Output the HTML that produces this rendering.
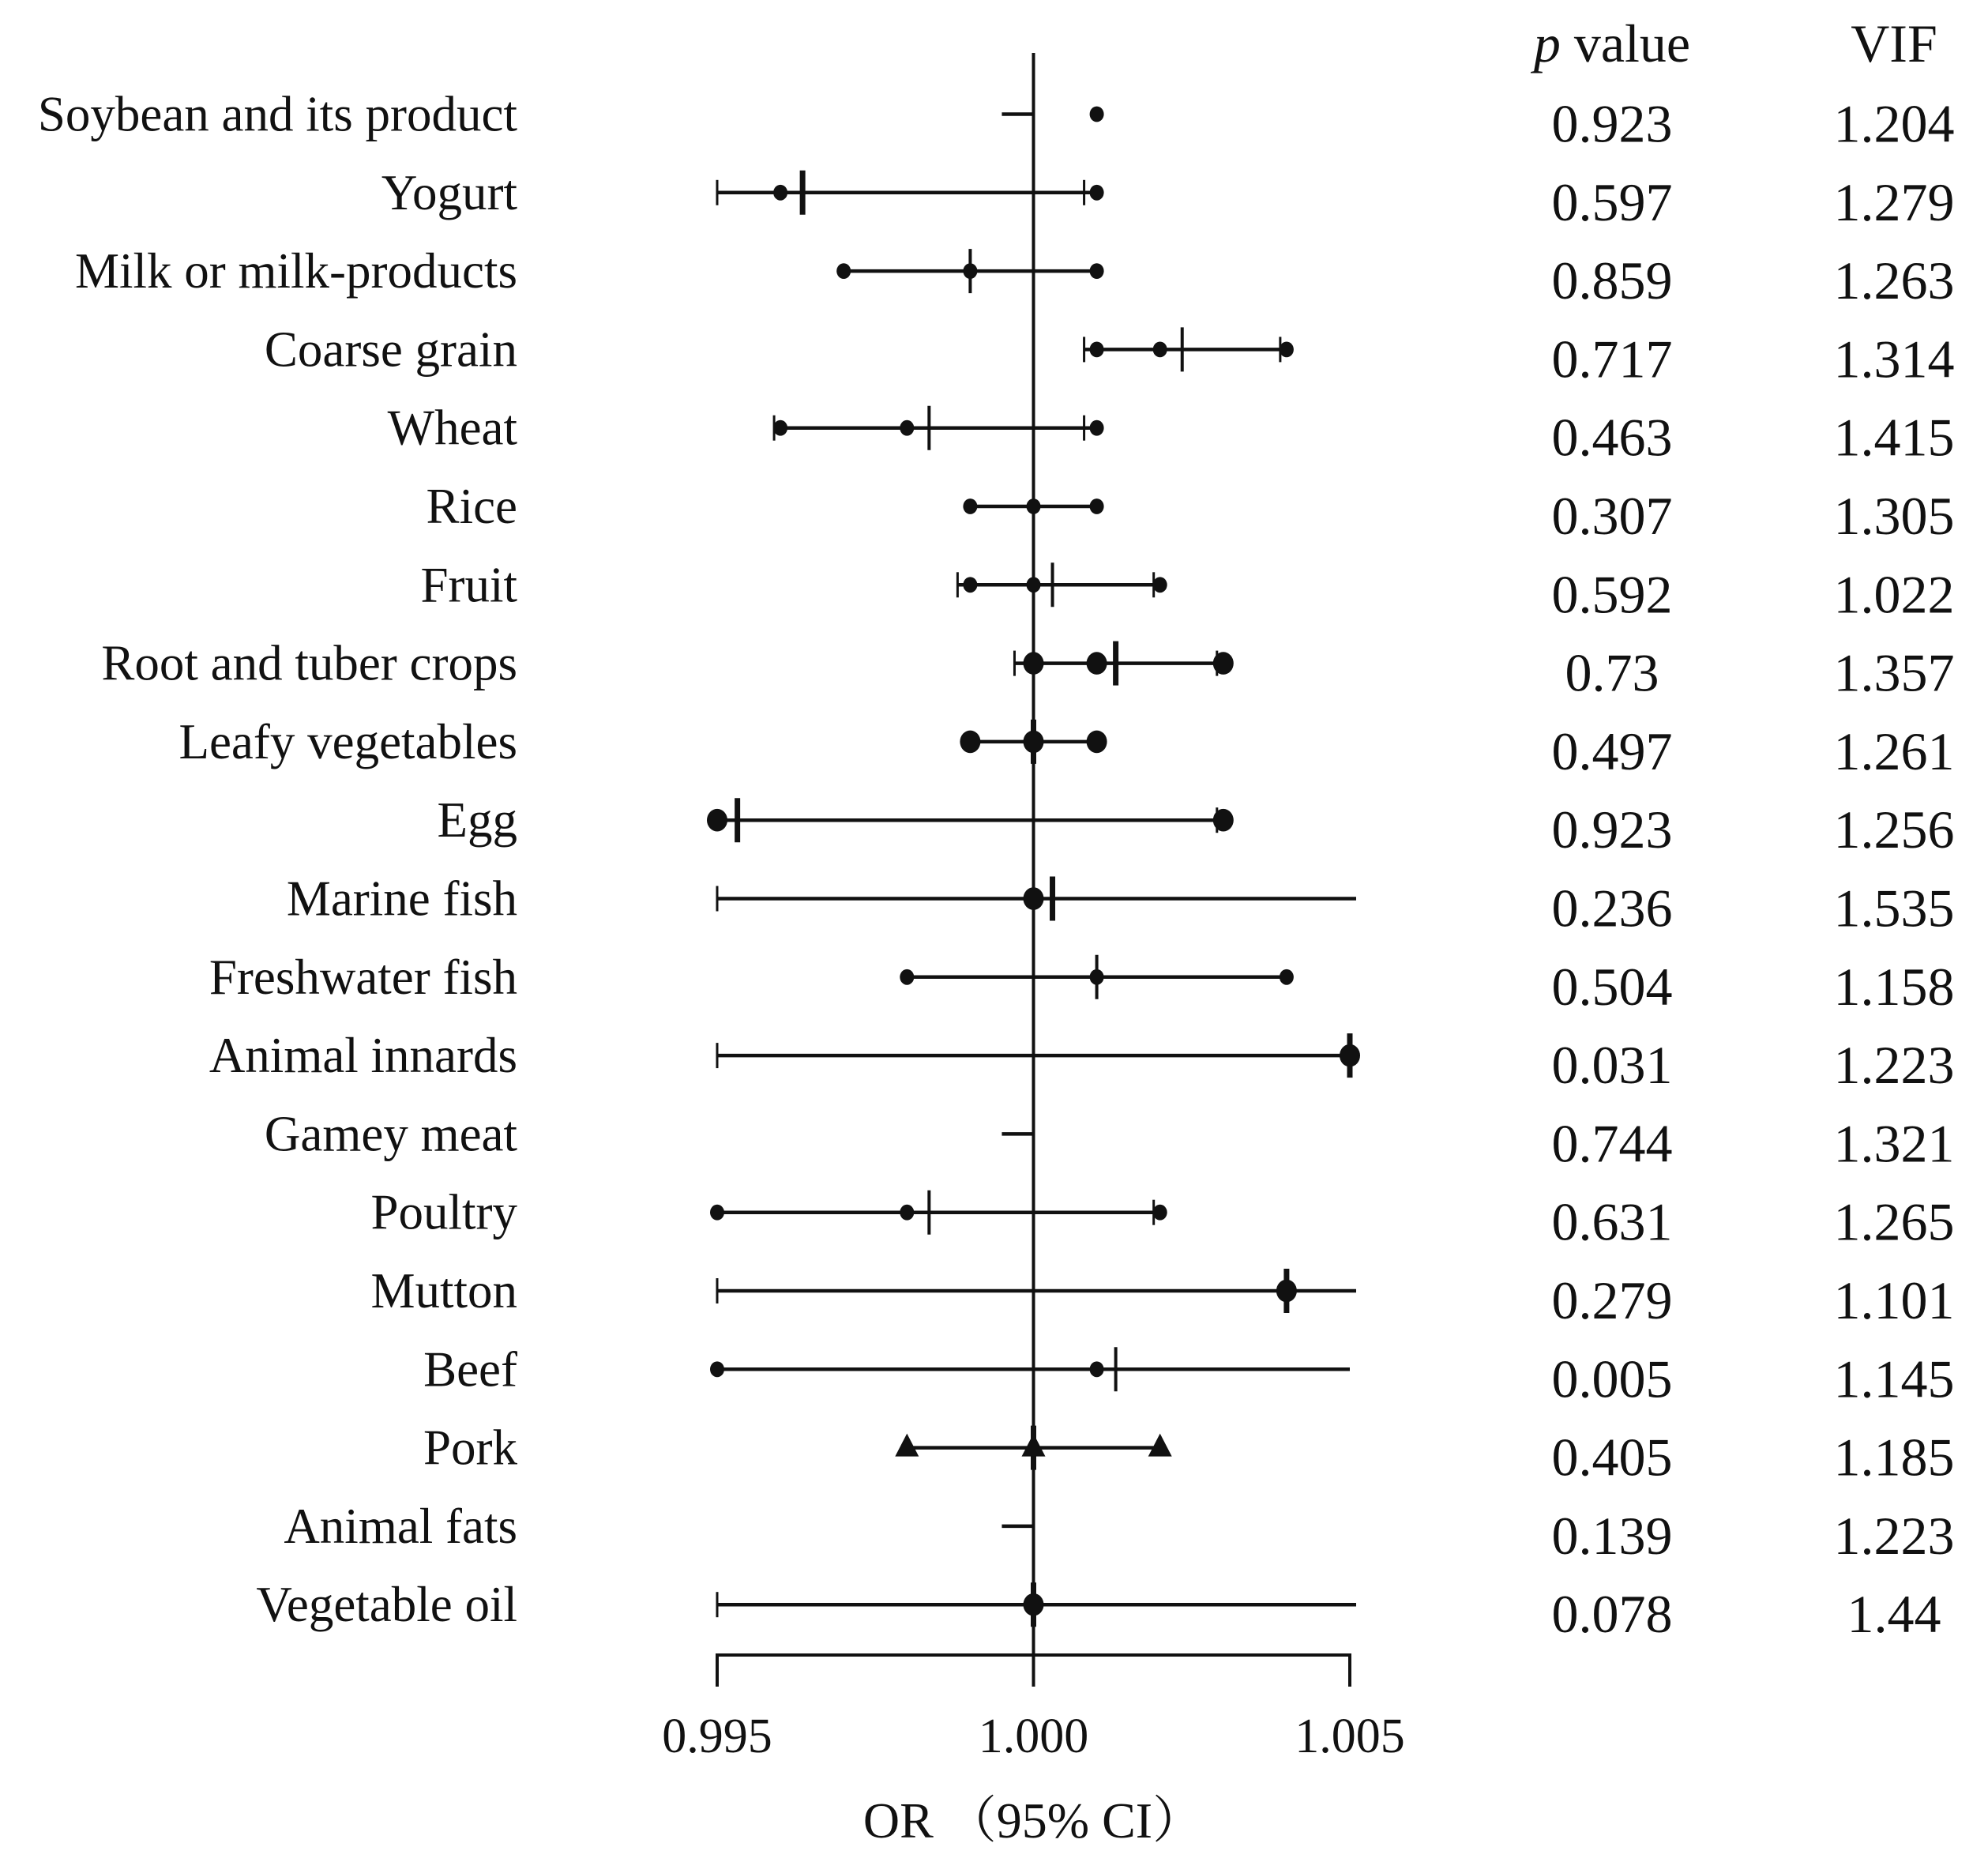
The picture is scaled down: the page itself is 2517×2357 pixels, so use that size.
<!DOCTYPE html>
<html><head><meta charset="utf-8"><style>
html,body{margin:0;padding:0;background:#fff;}
svg{display:block;}
text{font-family:"Liberation Serif","Noto Serif CJK SC",serif;fill:#111;}
</style></head><body>
<svg id="chart" width="2517" height="2357" viewBox="0 0 2517 2357" xmlns="http://www.w3.org/2000/svg">
<text x="2041" y="78" font-size="68" text-anchor="middle"><tspan font-style="italic">p</tspan>  value</text>
<text x="2398" y="78" font-size="68" text-anchor="middle">VIF</text>
<text x="1308" y="2326" font-size="64" text-anchor="middle">OR （95% CI）</text>
</svg>
<script>
const categories=["Soybean and its product","Yogurt","Milk or milk-products","Coarse grain","Wheat","Rice","Fruit","Root and tuber crops","Leafy vegetables","Egg","Marine fish","Freshwater fish","Animal innards","Gamey meat","Poultry","Mutton","Beef","Pork","Animal fats","Vegetable oil"];
const pValues=["0.923","0.597","0.859","0.717","0.463","0.307","0.592","0.73","0.497","0.923","0.236","0.504","0.031","0.744","0.631","0.279","0.005","0.405","0.139","0.078"];
const vifValues=["1.204","1.279","1.263","1.314","1.415","1.305","1.022","1.357","1.261","1.256","1.535","1.158","1.223","1.321","1.265","1.101","1.145","1.185","1.223","1.44"];
const ciLow=[0.9995,0.995,0.997,1.0008,0.9959,0.999,0.9988,0.9997,0.999,0.995,0.995,0.998,0.995,0.9995,0.995,0.995,0.995,0.998,0.9995,0.995];
const ciHigh=[1.000,1.0009,1.001,1.004,1.001,1.001,1.002,1.003,1.001,1.003,1.0051,1.004,1.005,1.000,1.002,1.0051,1.005,1.002,1.000,1.0051];
const points=[[1.001],[0.996,1.001],[0.997,0.999,1.001],[1.001,1.002,1.004],[0.996,0.998,1.001],[0.999,1.000,1.001],[0.999,1.000,1.002],[1.000,1.001,1.003],[0.999,1.000,1.001],[0.995,1.003],[1.000],[0.998,1.001,1.004],[1.005],[],[0.995,0.998,1.002],[1.004],[0.995,1.001],[0.998,1.000,1.002],[],[1.000]];
const marks=[null,0.99635,0.999,1.00235,0.99835,null,1.0003,1.0013,1.000,0.99532,1.0003,1.001,1.005,null,0.99835,1.004,1.0013,1.000,null,1.000];
const capsLeft=[null,0.995,null,1.0008,0.9959,null,0.9988,0.9997,null,null,0.995,null,0.995,null,null,0.995,null,null,null,0.995];
const capsRight=[null,1.0008,null,1.0039,1.0008,null,1.0019,1.0029,null,1.0029,null,null,null,null,1.0019,null,null,null,null,null];
const markerType=["s","s","s","s","s","s","s","b","b","b","b","s","b","s","s","b","s","t","s","b"];
const thickMark=[false,true,false,false,false,false,false,true,true,true,true,false,true,false,false,true,false,true,false,true];
const tickValues=[0.995,1.000,1.005];
const tickLabels=["0.995","1.000","1.005"];

const NS="http://www.w3.org/2000/svg";
const svg=document.getElementById('chart');
const xScale=v=>908+(v-0.995)/0.010*(1709-908);
const yScale=i=>144.5+i*99.3;
function mk(tag,attrs){const e=document.createElementNS(NS,tag);for(const k in attrs)e.setAttribute(k,attrs[k]);svg.appendChild(e);return e;}

let el=mk('line',{x1:xScale(1),x2:xScale(1),y1:67,y2:2135,stroke:'#111','stroke-width':4});


el=mk('line',{x1:xScale(0.995),x2:xScale(1.005),y1:2095,y2:2095,stroke:'#111','stroke-width':4});


tickValues.forEach((v,k)=>{
  let t=mk('line',{x1:xScale(v),x2:xScale(v),y1:2093,y2:2135,stroke:'#111','stroke-width':4});
  
  
  let l=mk('text',{x:xScale(v),y:2218,'font-size':62,'text-anchor':'middle'});
  l.textContent=tickLabels[k];
  
  
});

categories.forEach((c,i)=>{
  const y=yScale(i);
  let t=mk('text',{x:655,y:y+21,'font-size':63,'text-anchor':'end'});
  t.textContent=c;
  
  
  let p=mk('text',{x:2041,y:y+35,'font-size':68,'text-anchor':'middle'});
  p.textContent=pValues[i];
  
  
  let v=mk('text',{x:2398,y:y+35,'font-size':68,'text-anchor':'middle'});
  v.textContent=vifValues[i];
  
  

  let ln=mk('line',{x1:xScale(ciLow[i]),x2:xScale(ciHigh[i]),y1:y,y2:y,stroke:'#111','stroke-width':4.5});
  
  
  [capsLeft[i],capsRight[i]].forEach(cv=>{
    if(cv===null)return;
    let cp=mk('line',{x1:xScale(cv),x2:xScale(cv),y1:y-16,y2:y+16,stroke:'#111','stroke-width':3});
    
    
  });
  if(marks[i]!==null){
    const th=thickMark[i];
    let m=mk('line',{x1:xScale(marks[i]),x2:xScale(marks[i]),y1:y-28,y2:y+28,stroke:'#111','stroke-width':th?7:4});
    
    
  }
  points[i].forEach(pv=>{
    const x=xScale(pv);let s;
    if(markerType[i]==='t'){
      s=mk('polygon',{points:`${x},${y-18} ${x-15},${y+11} ${x+15},${y+11}`,fill:'#111'});
    }else{
      const r=markerType[i]==='b'?13:9;
      s=mk('ellipse',{cx:x,cy:y,rx:r,ry:r*1.1,fill:'#111'});
    }
    
    
  });
});
</script>
</body></html>
